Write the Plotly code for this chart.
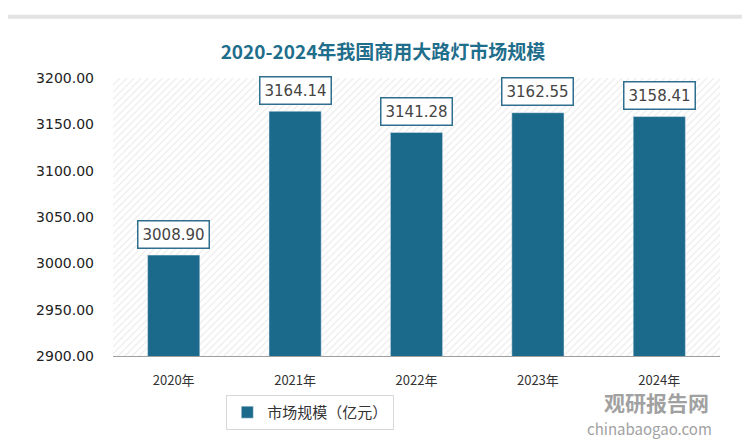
import plotly.graph_objects as go

years = ["2020年", "2021年", "2022年", "2023年", "2024年"]
values = [3008.90, 3164.14, 3141.28, 3162.55, 3158.41]
y_range = [2900, 3200]
y_ticks = [2900, 2950, 3000, 3050, 3100, 3150, 3200]

bar_color = "#1c6a8b"
font_cjk = "Noto Sans CJK SC"

fig = go.Figure()

# hatched plot background (drawn on the bottom x axis, bars on the overlaying one)
fig.add_trace(go.Scatter(
    x=[-0.5, 4.5, 4.5, -0.5, -0.5], y=[y_range[0], y_range[0], y_range[1], y_range[1], y_range[0]],
    xaxis="x", fill="toself", mode="none", fillcolor="white",
    fillpattern=dict(shape="/", fgcolor="#cfcfcf", bgcolor="white", size=5, solidity=0.2),
    showlegend=False, hoverinfo="skip",
))

fig.add_trace(go.Bar(
    x=years, y=values, xaxis="x2", name="市场规模（亿元）", marker_color=bar_color, width=0.43,
))

for yr, v in zip(years, values):
    fig.add_annotation(
        x=yr, y=v, xref="x2", text=f"{v:.2f}", showarrow=False, yshift=21,
        font=dict(size=15, color="#444", family="DejaVu Sans"),
        bgcolor="white", bordercolor="#2e6e8e", borderwidth=1.5, borderpad=4,
    )

# watermark
fig.add_annotation(
    x=0.985, y=-0.105, xref="paper", yref="paper", xanchor="right", yanchor="top",
    text="<b>观研报告网</b>", showarrow=False,
    font=dict(size=21, color="#8a8a8a", family=font_cjk), opacity=0.8,
)
fig.add_annotation(
    x=0.99, y=-0.215, xref="paper", yref="paper", xanchor="right", yanchor="top",
    text="chinabaogao.com", showarrow=False,
    font=dict(size=15, color="#8a8a8a", family=font_cjk), opacity=0.8,
)

fig.update_layout(
    width=750, height=444,
    paper_bgcolor="white",
    plot_bgcolor="white",
    margin=dict(l=105, r=38, t=70, b=96, autoexpand=False),
    title=dict(text="<b>2020-2024年我国商用大路灯市场规模</b>", x=0.5, y=0.915,
               font=dict(size=19, color="#1f6e8c", family=font_cjk)),
    xaxis=dict(range=[-0.5, 4.5], visible=False),
    xaxis2=dict(type="category", overlaying="x", side="bottom",
                tickfont=dict(size=13, color="#333", family=font_cjk),
                showline=True, linecolor="#a0a0a0", ticks="", ticklabelstandoff=12),
    yaxis=dict(range=y_range, tickvals=y_ticks, tickformat=".2f", showgrid=False, zeroline=False,
               tickfont=dict(size=14, color="#222", family="DejaVu Sans"), ticklabelstandoff=18),
    legend=dict(orientation="h", x=0.325, y=-0.14, xanchor="center", yanchor="top",
                bordercolor="#d8d8d8", borderwidth=1,
                font=dict(size=15, color="#333", family=font_cjk), itemwidth=30),
    bargap=0.5,
)

fig.add_shape(type="rect", xref="paper", yref="paper", x0=-0.185, x1=1.05, y0=-0.34, y1=1.22,
              line=dict(color="#e3e3e3", width=4), layer="below")

fig.write_html("out.html")
